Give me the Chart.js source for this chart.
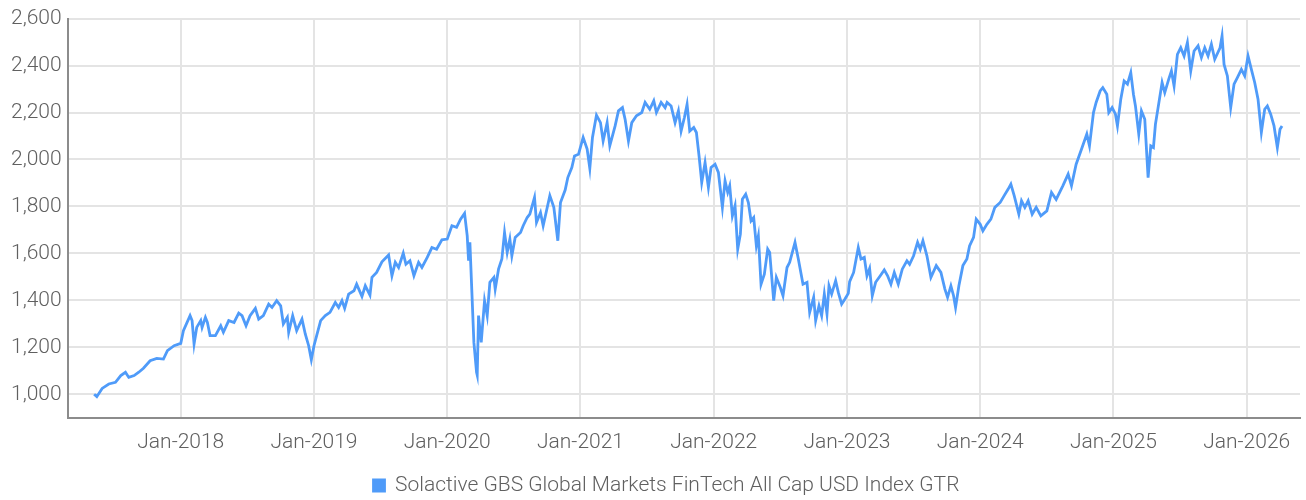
<!DOCTYPE html>
<html>
<head>
<meta charset="utf-8">
<script src="https://cdn.jsdelivr.net/npm/chart.js@4.4.1/dist/chart.umd.min.js"></script>
<style>
  html, body { margin: 0; padding: 0; background: #fff; }
  #wrap { width: 1306px; height: 500px; }
</style>
</head>
<body>
<div id="wrap"><canvas id="chart" width="1306" height="500"></canvas></div>
<script>
const seriesName = 'Solactive GBS Global Markets FinTech All Cap USD Index GTR'

// time as decimal years
const tYears = [
  2017.35, 2017.37, 2017.41, 2017.46, 2017.51, 2017.55, 2017.585, 2017.61, 2017.65, 2017.685,
  2017.72, 2017.77, 2017.82, 2017.87, 2017.90, 2017.95, 2018.00, 2018.02, 2018.07, 2018.085,
  2018.10, 2018.12, 2018.15, 2018.16, 2018.185, 2018.20, 2018.22, 2018.26, 2018.30, 2018.32,
  2018.36, 2018.40, 2018.435, 2018.46, 2018.49, 2018.52, 2018.56, 2018.585, 2018.62, 2018.66,
  2018.685, 2018.72, 2018.75, 2018.77, 2018.80, 2018.81, 2018.84, 2018.87, 2018.91, 2018.935,
  2018.96, 2018.98, 2019.00, 2019.02, 2019.05, 2019.085, 2019.12, 2019.16, 2019.185, 2019.21,
  2019.23, 2019.26, 2019.30, 2019.32, 2019.36, 2019.385, 2019.42, 2019.435, 2019.47, 2019.51,
  2019.56, 2019.585, 2019.61, 2019.635, 2019.67, 2019.69, 2019.72, 2019.75, 2019.785, 2019.81,
  2019.85, 2019.885, 2019.92, 2019.96, 2020.00, 2020.035, 2020.07, 2020.10, 2020.13, 2020.15,
  2020.16, 2020.17, 2020.185, 2020.20, 2020.22, 2020.225, 2020.235, 2020.255, 2020.28, 2020.30,
  2020.32, 2020.35, 2020.36, 2020.385, 2020.41, 2020.43, 2020.45, 2020.47, 2020.485, 2020.51,
  2020.55, 2020.57, 2020.60, 2020.62, 2020.655, 2020.67, 2020.70, 2020.72, 2020.77, 2020.80,
  2020.83, 2020.85, 2020.885, 2020.905, 2020.935, 2020.955, 2020.985, 2021.02, 2021.05, 2021.07,
  2021.09, 2021.12, 2021.15, 2021.17, 2021.20, 2021.22, 2021.26, 2021.285, 2021.315, 2021.335,
  2021.36, 2021.385, 2021.42, 2021.46, 2021.485, 2021.52, 2021.55, 2021.57, 2021.605, 2021.635,
  2021.65, 2021.68, 2021.71, 2021.735, 2021.755, 2021.78, 2021.80, 2021.82, 2021.85, 2021.87,
  2021.89, 2021.91, 2021.935, 2021.96, 2021.98, 2022.01, 2022.035, 2022.065, 2022.085, 2022.105,
  2022.12, 2022.14, 2022.16, 2022.18, 2022.20, 2022.215, 2022.24, 2022.26, 2022.28, 2022.30,
  2022.32, 2022.335, 2022.355, 2022.38, 2022.405, 2022.42, 2022.45, 2022.47, 2022.50, 2022.52,
  2022.55, 2022.57, 2022.61, 2022.635, 2022.67, 2022.70, 2022.72, 2022.75, 2022.765, 2022.79,
  2022.81, 2022.83, 2022.85, 2022.865, 2022.885, 2022.915, 2022.935, 2022.96, 2022.985, 2023.01,
  2023.02, 2023.05, 2023.085, 2023.105, 2023.13, 2023.15, 2023.17, 2023.19, 2023.215, 2023.25,
  2023.28, 2023.305, 2023.33, 2023.355, 2023.385, 2023.415, 2023.45, 2023.47, 2023.50, 2023.53,
  2023.55, 2023.57, 2023.60, 2023.63, 2023.67, 2023.705, 2023.735, 2023.755, 2023.78, 2023.80,
  2023.815, 2023.84, 2023.87, 2023.90, 2023.92, 2023.95, 2023.97, 2024.00, 2024.02, 2024.05,
  2024.08, 2024.11, 2024.15, 2024.18, 2024.21, 2024.23, 2024.255, 2024.29, 2024.31, 2024.335,
  2024.36, 2024.39, 2024.42, 2024.455, 2024.50, 2024.535, 2024.57, 2024.62, 2024.66, 2024.685,
  2024.72, 2024.76, 2024.80, 2024.82, 2024.85, 2024.87, 2024.90, 2024.92, 2024.95, 2024.965,
  2024.99, 2025.015, 2025.03, 2025.055, 2025.08, 2025.105, 2025.13, 2025.15, 2025.165, 2025.19,
  2025.21, 2025.235, 2025.26, 2025.28, 2025.30, 2025.315, 2025.335, 2025.365, 2025.385, 2025.415,
  2025.435, 2025.455, 2025.48, 2025.505, 2025.53, 2025.555, 2025.58, 2025.605, 2025.635, 2025.66,
  2025.685, 2025.71, 2025.735, 2025.76, 2025.80, 2025.815, 2025.83, 2025.855, 2025.88, 2025.905,
  2025.93, 2025.96, 2025.985, 2026.01, 2026.035, 2026.06, 2026.085, 2026.11, 2026.135, 2026.155,
  2026.18, 2026.205, 2026.23, 2026.25, 2026.265
]

const values = [
  1000, 990, 1025, 1044, 1051, 1080, 1094, 1072, 1080, 1094,
  1111, 1143, 1153, 1150, 1186, 1207, 1217, 1271, 1335, 1314,
  1214, 1285, 1314, 1285, 1328, 1306, 1250, 1250, 1292, 1264,
  1314, 1306, 1346, 1335, 1292, 1335, 1366, 1320, 1335, 1384,
  1370, 1399, 1377, 1300, 1328, 1264, 1335, 1271, 1320, 1256,
  1207, 1147, 1207, 1250, 1314, 1335, 1349, 1391, 1370, 1399,
  1366, 1427, 1441, 1469, 1417, 1462, 1422, 1498, 1519, 1564,
  1593, 1505, 1562, 1540, 1601, 1554, 1569, 1505, 1562, 1540,
  1583, 1625, 1618, 1658, 1661, 1718, 1711, 1746, 1771, 1675,
  1569, 1647, 1434, 1221, 1094, 1082, 1335, 1221, 1399, 1335,
  1477, 1498, 1448, 1533, 1576, 1689, 1604, 1661, 1590, 1668,
  1689, 1718, 1753, 1767, 1838, 1732, 1774, 1718, 1846, 1796,
  1654, 1817, 1870, 1923, 1966, 2015, 2022, 2094, 2044, 1962,
  2094, 2189, 2157, 2079, 2157, 2058, 2143, 2207, 2221, 2171,
  2079, 2157, 2186, 2200, 2243, 2214, 2250, 2200, 2243, 2221,
  2243, 2228, 2157, 2207, 2121, 2179, 2235, 2121, 2136, 2115,
  2015, 1902, 1987, 1881, 1966, 1980, 1945, 1796, 1909, 1860,
  1888, 1760, 1803, 1618, 1682, 1831, 1852, 1817, 1739, 1753,
  1632, 1675, 1469, 1512, 1618, 1604, 1399, 1498, 1455, 1420,
  1540, 1562, 1647, 1576, 1469, 1477, 1349, 1413, 1314, 1377,
  1335, 1427, 1342, 1462, 1427, 1484, 1434, 1384, 1406, 1430,
  1480, 1519, 1625, 1576, 1583, 1505, 1536, 1420, 1477, 1505,
  1530, 1505, 1469, 1519, 1469, 1533, 1569, 1554, 1590, 1647,
  1618, 1654, 1590, 1498, 1548, 1519, 1448, 1413, 1462, 1420,
  1370, 1462, 1548, 1576, 1632, 1668, 1746, 1724, 1696, 1724,
  1746, 1796, 1817, 1846, 1874, 1895, 1846, 1767, 1824, 1796,
  1824, 1767, 1796, 1760, 1781, 1860, 1830, 1888, 1938, 1888,
  1980, 2044, 2108, 2058, 2200, 2243, 2292, 2306, 2278, 2200,
  2221, 2193, 2143, 2257, 2334, 2321, 2370, 2278, 2228, 2108,
  2207, 2171, 1923, 2058, 2051, 2150, 2221, 2328, 2285, 2342,
  2377, 2313, 2448, 2476, 2441, 2498, 2377, 2462, 2484, 2434,
  2476, 2441, 2491, 2427, 2476, 2526, 2405, 2356, 2221, 2321,
  2349, 2384, 2356, 2441, 2384, 2328, 2257, 2115, 2214, 2228,
  2193, 2143, 2051, 2129, 2143
]

const xTicks = [2018, 2019, 2020, 2021, 2022, 2023, 2024, 2025, 2026]
const yTicks = [1000, 1200, 1400, 1600, 1800, 2000, 2200, 2400, 2600]

const font = 'Roboto, "Noto Sans", sans-serif'
const textColor = '#606060'
const gridColor = '#e4e4e4'
const axisColor = '#8c8c8c'
const lineColor = '#4f9bf9'

const points = tYears.map((t, i) => ({ x: t, y: values[i] }))

// the legend sits a little right of the canvas centre and close to the bottom in the original
const shiftLegend = {
  id: 'shiftLegend',
  afterLayout: chart => {
    chart.legend.left += 14
    chart.legend.right += 14
    chart.legend.top += 6
    chart.legend.bottom += 6
  },
}

new Chart(document.getElementById('chart'), {
  type: 'line',
  data: {
    datasets: [{
      label: seriesName,
      data: points,
      borderColor: lineColor,
      backgroundColor: lineColor,
      borderWidth: 2.8,
      pointRadius: 0,
      tension: 0,
    }],
  },
  plugins: [shiftLegend],
  options: {
    responsive: false,
    animation: false,
    layout: { padding: { left: 5, right: 6, top: 2, bottom: 0 } },
    plugins: {
      tooltip: { enabled: false },
      legend: {
        position: 'bottom',
        labels: {
          boxWidth: 11,
          boxHeight: 11,
          color: textColor,
          font: { family: font, size: 21, weight: 300 },
          padding: 1,
        },
      },
    },
    scales: {
      x: {
        type: 'linear',
        min: 2017.151,
        max: 2026.4,
        afterBuildTicks: scale => { scale.ticks = xTicks.map(v => ({ value: v })) },
        afterFit: scale => { scale.height += 1 },
        grid: { color: gridColor, lineWidth: 2, drawTicks: false },
        border: { color: axisColor, width: 2 },
        ticks: {
          color: textColor,
          font: { family: font, size: 21, weight: 300 },
          padding: 12,
          maxRotation: 0,
          callback: v => 'Jan-' + v,
        },
      },
      y: {
        min: 900,
        max: 2600,
        afterBuildTicks: scale => { scale.ticks = yTicks.map(v => ({ value: v })) },
        grid: { color: gridColor, lineWidth: 2, drawTicks: false },
        border: { color: axisColor, width: 2 },
        ticks: {
          color: textColor,
          font: { family: font, size: 21, weight: 300 },
          padding: 6,
          callback: v => v.toLocaleString('en-US'),
        },
      },
    },
  },
})
</script>
</body>
</html>
